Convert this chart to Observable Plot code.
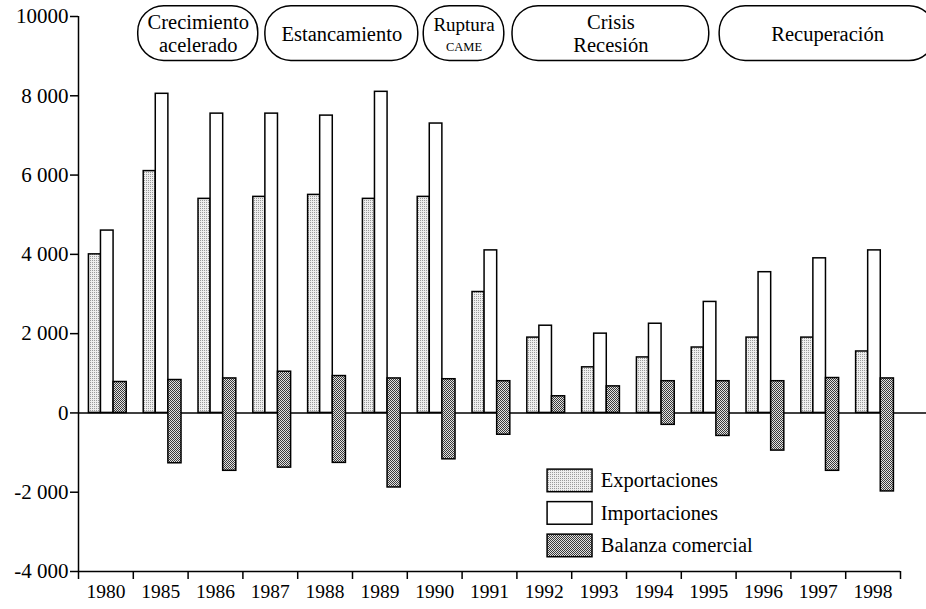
<!DOCTYPE html>
<html><head><meta charset="utf-8">
<script src="https://cdn.jsdelivr.net/npm/d3@7"></script>
<script src="https://cdn.jsdelivr.net/npm/@observablehq/plot@0.6"></script>
<style>
html,body{margin:0;padding:0;background:#fff;}
#chart{position:relative;width:926px;height:609px;overflow:hidden;}
#chart svg, #chart svg text, #chart svg g{font-family:"Liberation Serif",Tinos,"DejaVu Serif",serif !important;}
</style>
</head><body>
<svg width="0" height="0" style="position:absolute">
<defs>
<pattern id="pExp" width="2" height="2" patternUnits="userSpaceOnUse">
<rect width="2" height="2" fill="#eeeeee"/><rect width="1" height="1" fill="#9a9a9a"/>
</pattern>
<pattern id="pBal" width="2" height="2" patternUnits="userSpaceOnUse">
<rect width="2" height="2" fill="#e2e2e2"/><rect width="1" height="1" fill="#3a3a3a"/><rect x="1" y="1" width="1" height="1" fill="#3a3a3a"/>
</pattern>
</defs></svg>
<div id="chart"></div>
<script>
// ---- data ----
const years = ["1980","1985","1986","1987","1988","1989","1990","1991","1992","1993","1994","1995","1996","1997","1998"];
const exportaciones = [4000, 6100, 5400, 5450, 5500, 5400, 5450, 3050, 1900, 1150, 1400, 1650, 1900, 1900, 1550];
const importaciones = [4600, 8050, 7550, 7550, 7500, 8100, 7300, 4100, 2200, 2000, 2250, 2800, 3550, 3900, 4100];
const balanzaSup   = [780, 830, 870, 1040, 930, 870, 850, 800, 420, 670, 800, 800, 800, 880, 870];
const balanzaInf   = [0, -1270, -1460, -1380, -1260, -1880, -1170, -550, 0, 0, -300, -580, -950, -1460, -1980];
const seriesNames = ["Exportaciones", "Importaciones", "Balanza comercial"];
const yTicks = [-4000, -2000, 0, 2000, 4000, 6000, 8000, 10000];
const yTickLabels = ["-4 000", "-2 000", "0", "2 000", "4 000", "6 000", "8 000", "10000"];
const periodLabels = ["Crecimiento\nacelerado", "Estancamiento", "Ruptura", "Crisis\nRecesión", "Recuperación"];
const periodSub = ["", "", "CAME", "", ""];
// span of each period box, in year-group units along the axis
const periodFrom = [1.09, 3.41, 6.30, 7.92, 11.70];
const periodTo   = [3.28, 6.20, 7.77, 11.51, 15.64];

// ---- tables ----
const rows = years.map((year, i) => ({year, i, exp: exportaciones[i], imp: importaciones[i], bs: balanzaSup[i], bi: balanzaInf[i]}));
const periods = periodLabels.map((label, i) => ({label, sub: periodSub[i], from: periodFrom[i], to: periodTo[i]}));
const fills = ["url(#pExp)", "white", "url(#pBal)"];
const legend = seriesNames.map((name, i) => ({name, i, fill: fills[i]}));

const boxTop = 10260, boxBottom = 8880, boxMid = (boxTop + boxBottom) / 2;
const legTop = -1430, legStep = 820, legH = 570;
const mid = d => (d.from + d.to) / 2;
const serif = '"Liberation Serif", Tinos, "DejaVu Serif", serif';

const chart = Plot.plot({
  width: 926, height: 609,
  marginLeft: 78, marginRight: 26, marginTop: 16, marginBottom: 38,
  x: {domain: [0, years.length]},
  y: {domain: [-4000, 10000]},
  style: {fontFamily: serif, fontSize: "19px", background: "white", color: "black"},
  marks: [
    Plot.ruleY([0], {stroke: "black", strokeWidth: 1.5, insetRight: -26}),
    Plot.ruleY([-4000], {stroke: "black", strokeWidth: 1.5}),
    Plot.ruleX([0], {stroke: "black", strokeWidth: 1.5}),
    Plot.axisY({ticks: yTicks, tickFormat: d => yTickLabels[yTicks.indexOf(d)], tickSize: 8, tickPadding: 2, fontSize: 21, fontFamily: serif, label: null, strokeWidth: 1.5}),
    Plot.axisX({ticks: d3.range(0, years.length + 1), tickFormat: () => "", tickSize: 8, label: null, strokeWidth: 1.5}),
    Plot.axisX({ticks: years.map((d, i) => i + 0.5), tickFormat: v => years[Math.floor(v)], tickSize: 0, tickPadding: 13, fontSize: 19.5, fontFamily: serif, label: null}),
    // bars
    Plot.rect(rows, {x1: d => d.i + 0.19, x2: d => d.i + 0.41, y1: 0, y2: "exp", fill: fills[0], stroke: "black", strokeWidth: 1.5}),
    Plot.rect(rows, {x1: d => d.i + 0.41, x2: d => d.i + 0.64, y1: 0, y2: "imp", fill: fills[1], stroke: "black", strokeWidth: 1.5}),
    Plot.rect(rows, {x1: d => d.i + 0.64, x2: d => d.i + 0.88, y1: "bi", y2: "bs", fill: fills[2], stroke: "black", strokeWidth: 1.5}),
    // period boxes
    Plot.rect(periods, {x1: "from", x2: "to", y1: boxBottom, y2: boxTop, rx: 26, fill: "white", stroke: "black", strokeWidth: 1.5}),
    Plot.text(periods.filter(d => !d.sub), {x: mid, y: boxMid, text: "label", fontSize: 20.5, fontFamily: serif, lineHeight: 1.12}),
    Plot.text(periods.filter(d => d.sub), {x: mid, y: boxMid, text: "label", fontSize: 19, fontFamily: serif, dy: -9}),
    Plot.text(periods.filter(d => d.sub), {x: mid, y: boxMid, text: "sub", fontSize: 12.5, fontFamily: serif, dy: 13}),
    // legend
    Plot.rect(legend, {x1: 8.56, x2: 9.38, y1: d => legTop - d.i * legStep - legH, y2: d => legTop - d.i * legStep, fill: "fill", stroke: "black", strokeWidth: 1.5}),
    Plot.text(legend, {x: 9.53, y: d => legTop - d.i * legStep - legH / 2, text: "name", textAnchor: "start", fontSize: 20.5, fontFamily: serif})
  ]
});
document.getElementById("chart").appendChild(chart);
</script>
</body></html>
